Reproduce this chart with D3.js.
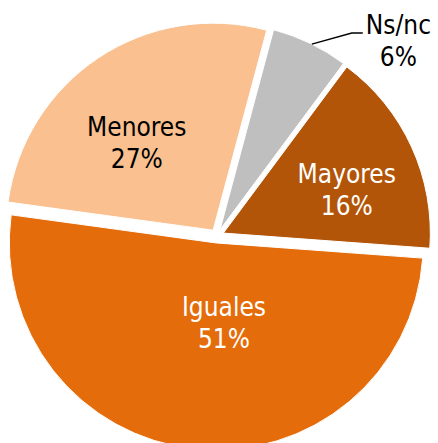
<!DOCTYPE html>
<html>
<head>
<meta charset="utf-8">
<script src="https://cdn.jsdelivr.net/npm/d3@7"></script>
<style>
  html, body { margin: 0; padding: 0; background: #fff; overflow: hidden; }
  text { font-family: "DejaVu Sans Condensed", "DejaVu Sans", sans-serif; font-size: 26px; }
</style>
</head>
<body>
<div id="chart"></div>
<script>
// slice data, clockwise from the top
const categories = ["Ns/nc", "Mayores", "Iguales", "Menores"];
const values = [6, 16, 51, 27];
const colors = ["#BFBFBF", "#B35508", "#E46C0A", "#FAC090"];
const textColors = ["#000", "#fff", "#fff", "#000"];

// layout
const width = 438, height = 443;
const cx = 217, cy = 236, radius = 207, explode = 7;
const startDeg = 15;
const lineGap = 32;
// label placement: angle shift from slice middle (deg) and distance from centre
const labelPlace = {
  "Ns/nc":   {da: 17,    r: 267},
  "Mayores": {da: 4.7,   r: 138},
  "Iguales": {da: -10.6, r: 87},
  "Menores": {da: -7.1,  r: 123}
};

const svg = d3.select("#chart")
  .append("svg")
    .attr("width", width)
    .attr("height", height);

const toRad = d => d * Math.PI / 180;

let pie = d3.pie()
  .sort(null)
  .value(d => d)
  .startAngle(toRad(startDeg))
  .endAngle(toRad(startDeg) + 2 * Math.PI);

let arc = d3.arc()
  .innerRadius(0)
  .outerRadius(radius);

let slices = pie(values);
slices.forEach((s, i) => {
  s.mid = (s.startAngle + s.endAngle) / 2;
  s.name = categories[i];
});

// slices, each pulled out a little along its middle
svg.append("g")
  .attr("transform", "translate(" + cx + "," + cy + ")")
  .selectAll("path")
  .data(slices)
  .enter()
  .append("path")
    .attr("d", arc)
    .attr("transform", d => "translate(" + (explode * Math.sin(d.mid)) + "," + (-explode * Math.cos(d.mid)) + ")")
    .style("fill", (d, i) => colors[i])
    .style("stroke", "white")
    .style("stroke-width", 1);

// labels
let labels = svg.append("g");
slices.forEach((s, i) => {
  let p = labelPlace[s.name];
  let a = s.mid + toRad(p.da);
  let x = cx + p.r * Math.sin(a);
  let y = cy - p.r * Math.cos(a);
  let t = labels.append("text")
    .attr("text-anchor", "middle")
    .style("fill", textColors[i]);
  t.append("tspan")
    .attr("x", x)
    .attr("y", y - lineGap / 2 + 9.5)
    .text(s.name);
  t.append("tspan")
    .attr("x", x)
    .attr("y", y + lineGap / 2 + 9.5)
    .text(values[i] + "%");

  // leader line for the label that sits outside
  if (p.r > radius) {
    let w = t.select("tspan").node().getComputedTextLength();
    let ex = x - w / 2 - 3;
    let ey = y - lineGap / 2 + 9;
    let sr = radius + explode;
    let sx = cx + sr * Math.sin(s.mid + toRad(0.5));
    let sy = cy - sr * Math.cos(s.mid + toRad(0.5));
    labels.append("path")
      .attr("d", d3.line()([[sx, sy], [ex - 11, ey], [ex, ey]]))
      .style("fill", "none")
      .style("stroke", "#000")
      .style("stroke-width", 1.5);
  }
});
</script>
</body>
</html>
